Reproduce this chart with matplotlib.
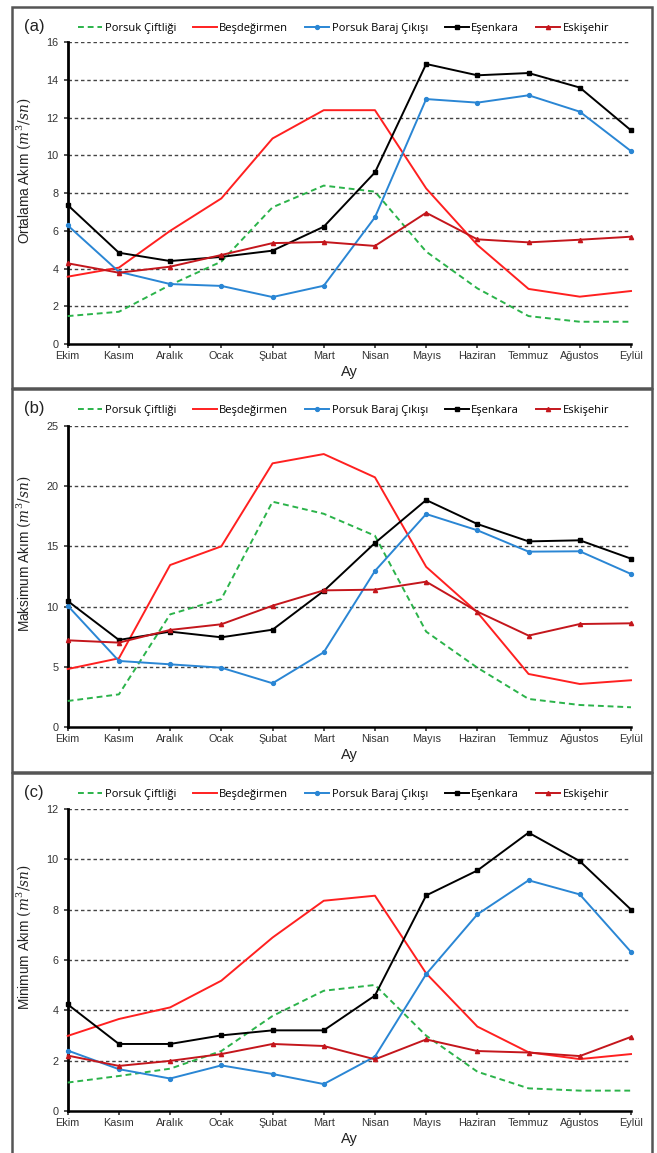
import matplotlib
matplotlib.use("Agg")
from matplotlib import pyplot as plt
from matplotlib.patches import Rectangle

months = ['Ekim', 'Kasım', 'Aralık', 'Ocak', 'Şubat', 'Mart', 'Nisan',
          'Mayıs', 'Haziran', 'Temmuz', 'Ağustos', 'Eylül']
stations = ['Porsuk Çiftliği', 'Beşdeğirmen', 'Porsuk Baraj Çıkışı', 'Eşenkara', 'Eskişehir']

# (a) ortalama akim
mean_ciftlik = [1.48, 1.71, 3.13, 4.37, 7.25, 8.40, 8.08, 4.90, 2.95, 1.48, 1.18, 1.18]
mean_besdeg = [3.57, 4.05, 6.00, 7.72, 10.90, 12.40, 12.40, 8.25, 5.25, 2.92, 2.51, 2.81]
mean_baraj = [6.29, 3.83, 3.18, 3.08, 2.49, 3.09, 6.72, 12.99, 12.80, 13.19, 12.32, 10.23]
mean_esenkara = [7.37, 4.84, 4.40, 4.62, 4.95, 6.22, 9.10, 14.85, 14.25, 14.37, 13.60, 11.33]
mean_eskisehir = [4.28, 3.78, 4.10, 4.72, 5.35, 5.41, 5.20, 6.96, 5.55, 5.39, 5.53, 5.69]

# (b) maksimum akim
max_ciftlik = [2.18, 2.73, 9.36, 10.63, 18.70, 17.70, 15.88, 7.93, 4.94, 2.35, 1.85, 1.66]
max_besdeg = [4.83, 5.72, 13.45, 15.00, 21.88, 22.65, 20.72, 13.30, 9.53, 4.42, 3.59, 3.90]
max_baraj = [10.08, 5.50, 5.22, 4.94, 3.65, 6.22, 12.96, 17.68, 16.33, 14.56, 14.59, 12.71]
max_esenkara = [10.47, 7.24, 7.93, 7.46, 8.09, 11.30, 15.28, 18.84, 16.85, 15.41, 15.50, 13.98]
max_eskisehir = [7.21, 7.02, 8.07, 8.54, 10.08, 11.35, 11.41, 12.07, 9.59, 7.60, 8.56, 8.62]

# (c) minimum akim
min_ciftlik = [1.14, 1.40, 1.69, 2.39, 3.78, 4.78, 5.01, 3.00, 1.57, 0.91, 0.82, 0.82]
min_besdeg = [2.99, 3.66, 4.12, 5.18, 6.89, 8.35, 8.55, 5.47, 3.36, 2.34, 2.07, 2.27]
min_baraj = [2.41, 1.67, 1.30, 1.82, 1.48, 1.08, 2.17, 5.44, 7.81, 9.16, 8.60, 6.32]
min_esenkara = [4.24, 2.67, 2.67, 3.01, 3.21, 3.21, 4.59, 8.56, 9.55, 11.05, 9.92, 8.00]
min_eskisehir = [2.21, 1.80, 2.00, 2.27, 2.67, 2.59, 2.06, 2.85, 2.39, 2.33, 2.19, 2.95]

panels = [
    ('(a)', 'Ortalama Akım $(m^3/sn)$', 16, 2,
     [mean_ciftlik, mean_besdeg, mean_baraj, mean_esenkara, mean_eskisehir]),
    ('(b)', 'Maksimum Akım $(m^3/sn)$', 25, 5,
     [max_ciftlik, max_besdeg, max_baraj, max_esenkara, max_eskisehir]),
    ('(c)', 'Minimum Akım $(m^3/sn)$', 12, 2,
     [min_ciftlik, min_besdeg, min_baraj, min_esenkara, min_eskisehir]),
]

styles = [
    dict(color='#2bb34a', ls=(0, (3, 2)), lw=1.4, marker=None),
    dict(color='#ff2020', ls='-', lw=1.4, marker=None),
    dict(color='#2a86d4', ls='-', lw=1.4, marker='o', ms=2.8),
    dict(color='#000000', ls='-', lw=1.4, marker='s', ms=2.6),
    dict(color='#c4161c', ls='-', lw=1.4, marker='^', ms=3.0),
]

W, H = 657, 1153
plt.rcParams['font.family'] = ['Liberation Sans', 'DejaVu Sans']
plt.rcParams['mathtext.fontset'] = 'dejavuserif'
fig = plt.figure(figsize=(W / 100, H / 100), dpi=100)


def rect(l, t, r, b):
    return [l / W, 1 - b / H, (r - l) / W, (b - t) / H]


boxes = [(12, 7, 652, 388), (12, 389, 652, 772), (12, 773, 652, 1160)]
ax_boxes = [(67.7, 42.3, 631, 344), (67.7, 425.7, 631, 727.3), (67.7, 808.7, 631, 1111.3)]

for (lab, ylab, ymax, step, series), box, axb in zip(panels, boxes, ax_boxes):
    l, t, r, b = box
    fig.patches.append(Rectangle((l / W, 1 - b / H), (r - l) / W, (b - t) / H,
                                 transform=fig.transFigure, fill=False,
                                 edgecolor='#555555', lw=1.8))
    ax = fig.add_axes(rect(*axb))
    for name, vals, st in zip(stations, series, styles):
        ax.plot(range(len(months)), vals, color=st['color'], ls=st['ls'], lw=st['lw'],
                marker=st['marker'], ms=st.get('ms', 0), label=name, clip_on=False,
                zorder=3)
    ax.set_xlim(0, 11)
    ax.set_ylim(0, ymax)
    ax.set_yticks(range(0, ymax + 1, step))
    ax.set_xticks(range(len(months)))
    ax.set_xticklabels(months)
    for y in range(step, ymax + 1, step):
        ax.axhline(y, color='#444444', ls=(0, (2.5, 2)), lw=1.0, zorder=1)
    for s in ['top', 'right']:
        ax.spines[s].set_visible(False)
    ax.spines['left'].set_linewidth(2)
    ax.spines['bottom'].set_linewidth(1.8)
    ax.tick_params(axis='both', labelsize=7.8, colors='#333333', length=3, width=1.2)
    ax.tick_params(axis='x', pad=2)
    ax.set_ylabel(ylab, fontsize=9.8, color='#222222')
    ax.yaxis.set_label_coords(-0.062, 0.575)
    ax.set_xlabel('Ay', fontsize=10.5, color='#222222', labelpad=3)
    fig.text(24 / W, 1 - (t + 19) / H, lab, fontsize=12, color='#222222', va='center')
    ax.legend(loc='center left', bbox_to_anchor=(78 / W, 1 - (t + 21) / H),
              bbox_transform=fig.transFigure, ncol=5, frameon=False,
              handlelength=2.2, handletextpad=0.2, columnspacing=1.5,
              prop={'family': 'Open Sans', 'size': 8.0}, borderaxespad=0, borderpad=0)

fig.savefig('out.png', dpi=100)
